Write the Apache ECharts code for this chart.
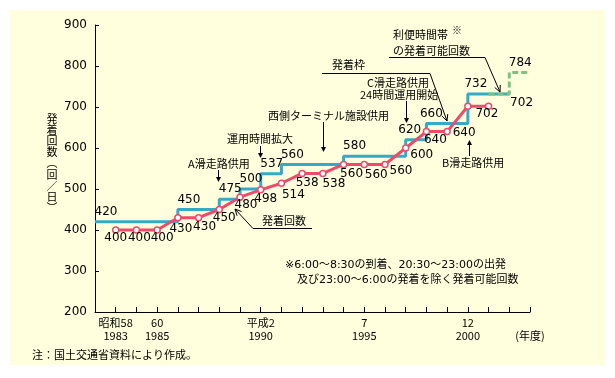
<!DOCTYPE html>
<html><head><meta charset="utf-8">
<script src="https://cdn.jsdelivr.net/npm/echarts@6/dist/echarts.min.js"></script>
<style>html,body{margin:0;padding:0;background:#fff}#c{width:615px;height:378px}</style>
</head><body><div id="c"></div>
<script>
// ---- data ----
const years = ['1982','1983','1984','1985','1986','1987','1988','1989','1990','1991','1992','1993','1994','1995','1996','1997','1998','1999','2000','2001','2002','2003'];
const movements = [null,400,400,400,430,430,450,480,498,514,538,538,560,560,560,600,640,640,702,702,null,null];
const slotCapacity = [420,420,420,420,450,450,475,500,537,560,560,560,580,580,580,620,660,660,732,732,null,null];
const convenientSlots = [null,null,null,null,null,null,null,null,null,null,null,null,null,null,null,null,null,null,null,732,784,784];
const tickYears = ['1983','1985','1990','1995','2000'];
const tickEras = ['昭和58','60','平成2','7','12'];
const unitLabel = '(年度)';
const yTicks = [200,300,400,500,600,700,800,900];

// ---- styles ----
const RED = '#EF4A6B', BLUE = '#35AAC8', GREEN = '#7DC27D';
const NUMF = '"DejaVu Sans","Noto Sans CJK JP",sans-serif';
const JPF = '"Noto Sans CJK JP","DejaVu Sans",sans-serif';
const redShift = [null,[0,8],[3,8],[5,8],[3,11],[6,9],[5,8],[6,8],[5,9],[12,12],[5,9],[11,10],[8,9],[12,10],[16,6],[16,7],[9,8],[17,1],[19,8],[33,-3],null,null];
const blueDx = {15:4, 16:5, 18:8};

const chart = echarts.init(document.getElementById('c'), null, {renderer:'canvas'});

const redData = movements.map((v,i)=> v==null ? '-' : {
  value:v, label:{show:true, offset:redShift[i]}
});
const stepLabels = (arr, dxMap) => arr.map((v,i)=>{
  if (v==null) return '-';
  const changed = i===0 ? true : (arr[i-1]!=null && arr[i-1]!==v);
  return {value:v, label:{show:changed, offset:[(dxMap && dxMap[i]!=null)?dxMap[i]:11, -10]}};
});
const blueData = stepLabels(slotCapacity, blueDx);
const greenData = convenientSlots.map((v,i)=> v==null ? '-' : {value:v, label:{show:(i===20), offset:[11,-10]}});

function txt(x,y,t,extra){ return Object.assign({type:'text', x:x, y:y, z:50, style:{text:t, fontSize:11, fontFamily:JPF, fill:'#000', align:'left', verticalAlign:'middle'}}, extra||{}); }
function ln(x1,y1,x2,y2){ return {type:'line', z:50, shape:{x1:x1,y1:y1,x2:x2,y2:y2}, style:{stroke:'#000', lineWidth:1}}; }
function arrowV(x,y1,y2){
  const d = y2>y1?1:-1;
  return [ln(x,y1,x,y2-d*4),
    {type:'polygon', z:50, shape:{points:[[x-2.5,y2-d*5],[x+2.5,y2-d*5],[x,y2]]}, style:{fill:'#000'}}];
}
function leader(points){
  const n=points.length, tip=points[n-1], prev=points[n-2];
  const dx=tip[0]-prev[0], dy=tip[1]-prev[1], L=Math.hypot(dx,dy), ux=dx/L, uy=dy/L;
  const a=0.45, len=7;
  const rot=(ang)=>[tip[0]-len*(ux*Math.cos(ang)-uy*Math.sin(ang)), tip[1]-len*(uy*Math.cos(ang)+ux*Math.sin(ang))];
  return [{type:'polyline', z:50, shape:{points:points}, style:{stroke:'#000', fill:null, lineWidth:1}},
          {type:'polyline', z:50, shape:{points:[rot(a),tip,rot(-a)]}, style:{stroke:'#000', fill:null, lineWidth:1}}];
}

const yName = ['発','着','回','数','︵','回','／','日','︶'];
const yNameEls = yName.map((c,i)=>({type:'text', x:52, y:113+i*11.2, z:50,
  style:{text:c, fontSize:11, fontFamily:JPF, fill:'#000', align:'center', verticalAlign:'top'}}));

const graphics = [
  {type:'rect', z:-100, shape:{x:10,y:10,width:595,height:355}, style:{fill:'#FFFFDD'}},
  ...yNameEls,
  txt(188,164,'A滑走路供用'),
  ...arrowV(218.5,170,182),
  txt(227,139,'運用時間拡大'),
  ...arrowV(260.5,146,158),
  txt(268,116,'西側ターミナル施設供用'),
  ...arrowV(323.5,122,152),
  txt(332,65,'発着枠'),
  ...leader([[322,73.5],[430,73.5],[447,121]]),
  txt(367,83,'C滑走路供用'),
  txt(360,95,'24時間運用開始'),
  ...arrowV(406.5,101,123),
  txt(393,35,'利便時間帯'),
  {type:'text', x:452, y:30, z:50, style:{text:'※', fontSize:10, fontFamily:JPF, fill:'#000', align:'left', verticalAlign:'middle'}},
  txt(393,51,'の発着可能回数'),
  ...leader([[389,57.5],[485,57.5],[500,92]]),
  txt(442,163,'B滑走路供用'),
  ...arrowV(469.5,156,140),
  txt(262,221,'発着回数'),
  ...leader([[312,228.5],[253,228.5],[235,209]]),
  {type:'text', x:285, y:265, z:50, style:{text:'※6:00～8:30の到着、20:30～23:00の出発', fontSize:11, fontFamily:NUMF, fill:'#000', align:'left', verticalAlign:'middle'}},
  {type:'text', x:297, y:280, z:50, style:{text:'及び23:00～6:00の発着を除く発着可能回数', fontSize:11, fontFamily:NUMF, fill:'#000', align:'left', verticalAlign:'middle'}},
  txt(32,355,'注：国土交通省資料により作成。')
];

const option = {
  animation:false,
  backgroundColor:'#fff',
  grid:{left:95, right:85, top:25, bottom:66},
  xAxis:{
    type:'category', data:years, boundaryGap:false,
    axisLine:{lineStyle:{color:'#000', width:1}},
    axisTick:{inside:true, length:5, interval:0, lineStyle:{color:'#000'}},
    axisLabel:{interval:0, margin:4, color:'#000', fontSize:11, fontFamily:JPF, lineHeight:13,
      formatter:(v)=>{ const k=tickYears.indexOf(v); if(k>=0) return tickEras[k]+'\n'+v; if(v===years[years.length-1]) return '\n'+unitLabel; return ''; }},
    splitLine:{show:false}
  },
  yAxis:{
    type:'value', min:yTicks[0], max:yTicks[yTicks.length-1], interval:100,
    axisLine:{show:true, lineStyle:{color:'#000', width:1}},
    axisTick:{show:true, inside:true, length:4, lineStyle:{color:'#000'}},
    axisLabel:{color:'#000', fontSize:12, fontFamily:NUMF, margin:8},
    splitLine:{show:false}
  },
  series:[
    {type:'line', name:'発着枠', data:blueData, step:'end', symbol:'circle', symbolSize:0, showSymbol:true, z:3,
     lineStyle:{color:BLUE, width:3}, itemStyle:{color:BLUE},
     label:{position:'inside', color:'#000', fontSize:12, fontFamily:NUMF}},
    {type:'line', name:'利便時間帯', data:greenData, step:'end', symbol:'circle', symbolSize:0, showSymbol:true, z:3,
     lineStyle:{color:GREEN, width:3, type:[6,3]}, itemStyle:{color:GREEN},
     label:{position:'inside', color:'#000', fontSize:12, fontFamily:NUMF}},
    {type:'line', name:'発着回数', data:redData, symbol:'circle', symbolSize:6, z:4,
     lineStyle:{color:RED, width:3}, itemStyle:{color:'#fff', borderColor:RED, borderWidth:1.5},
     label:{position:'inside', color:'#000', fontSize:12, fontFamily:NUMF}}
  ],
  graphic:graphics
};
chart.setOption(option);
</script>
</body></html>
